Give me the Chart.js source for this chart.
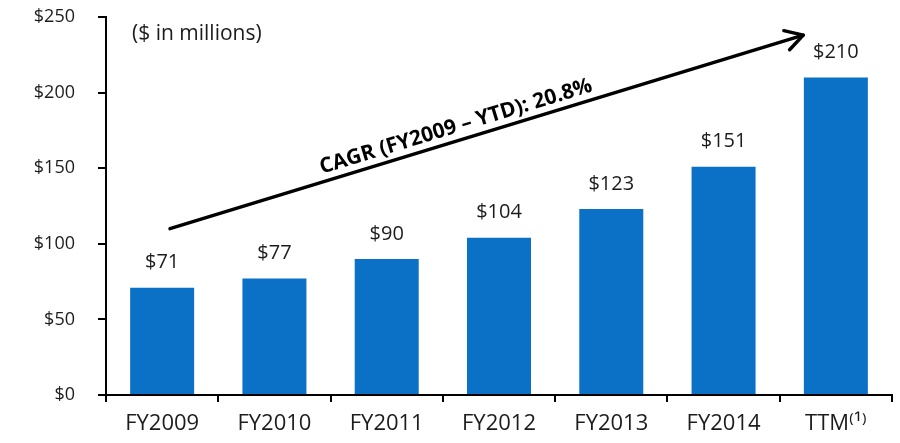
<!DOCTYPE html>
<html>
<head>
<meta charset="utf-8">
<script src="https://cdn.jsdelivr.net/npm/chart.js@4/dist/chart.umd.min.js"></script>
<style>
  html, body { margin: 0; padding: 0; background: #ffffff; }
  #wrap { width: 900px; height: 443px; position: relative; }
</style>
</head>
<body>
<div id="wrap"><canvas id="c" width="900" height="443"></canvas></div>
<script>
const categories = ["FY2009", "FY2010", "FY2011", "FY2012", "FY2013", "FY2014", "TTM⁽¹⁾"];
const revenue = [71, 77, 90, 104, 123, 151, 210];
const valueLabels = ["$71", "$77", "$90", "$104", "$123", "$151", "$210"];
const yTicks = [0, 50, 100, 150, 200, 250];
const unitNote = "($ in millions)";
const cagrText = "CAGR (FY2009 – YTD): 20.8%";
// arrow endpoints in data terms: [category index position, value]
const arrowStart = [0.07, 110];
const arrowEnd = [5.71, 238];

const FONT = "'Open Sans', 'Noto Sans', sans-serif";
const BAR = "#0b71c7";
const INK = "#1c1c1c";

const overlay = {
  id: 'overlay',
  afterDatasetsDraw(chart) {
    const ctx = chart.ctx;
    const xs = chart.scales.x, ys = chart.scales.y;
    const meta = chart.getDatasetMeta(0);
    ctx.save();
    // value labels
    ctx.fillStyle = INK;
    ctx.font = "20px " + FONT;
    ctx.textAlign = "center";
    ctx.textBaseline = "middle";
    meta.data.forEach((bar, i) => {
      ctx.fillText(valueLabels[i], bar.x, bar.y - 25);
    });
    // unit note
    ctx.textAlign = "left";
    ctx.font = "21px " + FONT;
    ctx.fillText(unitNote, xs.left + 26, ys.getPixelForValue(239));
    // arrow
    const sx = xs.left + (arrowStart[0] + 0.5) * (xs.right - xs.left) / categories.length;
    const ex = xs.left + (arrowEnd[0] + 0.5) * (xs.right - xs.left) / categories.length;
    const sy = ys.getPixelForValue(arrowStart[1]);
    const ey = ys.getPixelForValue(arrowEnd[1]);
    const ang = Math.atan2(ey - sy, ex - sx);
    ctx.strokeStyle = "#000";
    ctx.lineWidth = 3.4;
    ctx.lineCap = "round";
    ctx.lineJoin = "round";
    ctx.beginPath();
    ctx.moveTo(sx, sy);
    ctx.lineTo(ex, ey);
    ctx.stroke();
    const hl = 20, ha = 0.52;
    ctx.beginPath();
    ctx.moveTo(ex - hl * Math.cos(ang - ha), ey - hl * Math.sin(ang - ha));
    ctx.lineTo(ex, ey);
    ctx.lineTo(ex - hl * Math.cos(ang + ha), ey - hl * Math.sin(ang + ha));
    ctx.stroke();
    // CAGR text
    const t = 0.458;
    const mx = sx + (ex - sx) * t, my = sy + (ey - sy) * t;
    ctx.translate(mx, my);
    ctx.rotate(ang);
    ctx.font = "bold 21px " + FONT;
    ctx.textAlign = "center";
    ctx.textBaseline = "alphabetic";
    ctx.fillStyle = "#000";
    ctx.fillText(cagrText, 0, -8);
    ctx.restore();
  }
};

new Chart(document.getElementById('c'), {
  type: 'bar',
  data: {
    labels: categories,
    datasets: [{
      data: revenue,
      backgroundColor: BAR,
      borderWidth: 0,
      barPercentage: 0.57,
      categoryPercentage: 1.0
    }]
  },
  options: {
    responsive: false,
    animation: false,
    events: [],
    layout: { padding: { top: 17, right: 8, left: 0, bottom: 0 } },
    plugins: { legend: { display: false }, tooltip: { enabled: false } },
    scales: {
      x: {
        offset: true,
        grid: { display: true, drawOnChartArea: false, offset: true, color: "#000", tickLength: 7, lineWidth: 2 },
        border: { display: true, color: "#000", width: 2 },
        ticks: { color: INK, font: { family: FONT, size: 22 }, padding: 9, maxRotation: 0 },
        afterFit(s) { s.height = 48; s.paddingLeft = 0; s.paddingRight = 0; }
      },
      y: {
        min: 0, max: 250,
        afterBuildTicks(s) { s.ticks = yTicks.map(v => ({ value: v })); },
        grid: { display: true, drawOnChartArea: false, color: "#000", tickLength: 8, lineWidth: 2 },
        border: { display: true, color: "#000", width: 2 },
        ticks: { color: INK, font: { family: FONT, size: 18 }, padding: 23, callback: v => "$" + v },
        afterFit(s) { s.width = 106; s.paddingTop = 0; s.paddingBottom = 0; }
      }
    }
  },
  plugins: [overlay]
});
</script>
</body>
</html>
